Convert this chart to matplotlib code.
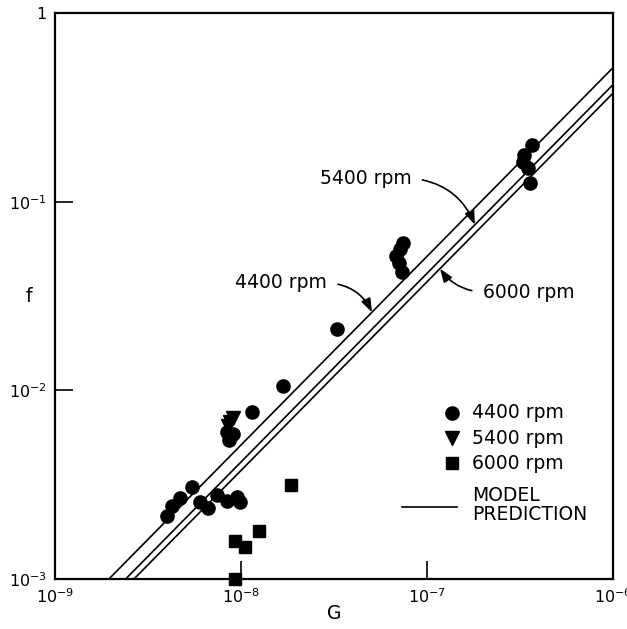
import numpy as np
import matplotlib
matplotlib.use('Agg')
import matplotlib.pyplot as plt
from matplotlib.ticker import FixedLocator, FixedFormatter, NullLocator

plt.rcParams['font.family'] = ['DejaVu Sans']
plt.rcParams['mathtext.fontset'] = 'dejavusans'

# measured points, 4400 rpm
G_4400 = [3.98e-9, 4.24e-9, 4.70e-9, 5.43e-9, 6.03e-9, 6.67e-9, 7.40e-9, 8.38e-9, 9.48e-9, 9.89e-9,
          8.41e-9, 8.61e-9, 9.06e-9, 1.14e-8, 1.68e-8, 3.30e-8,
          7.31e-8, 7.43e-8, 7.16e-8, 6.81e-8, 7.06e-8,
          3.66e-7, 3.33e-7, 3.30e-7, 3.51e-7, 3.58e-7]
f_4400 = [2.16e-3, 2.44e-3, 2.69e-3, 3.08e-3, 2.57e-3, 2.37e-3, 2.79e-3, 2.59e-3, 2.72e-3, 2.57e-3,
          6.01e-3, 5.46e-3, 5.88e-3, 7.63e-3, 1.05e-2, 2.11e-2,
          4.26e-2, 6.04e-2, 5.61e-2, 5.15e-2, 4.73e-2,
          0.200, 0.177, 0.162, 0.151, 0.126]

# 5400 rpm
G_5400 = [9.06e-9, 8.73e-9, 8.51e-9]
f_5400 = [7.13e-3, 6.79e-3, 6.47e-3]

# 6000 rpm
G_6000 = [1.85e-8, 1.25e-8, 9.29e-9, 1.05e-8, 9.23e-9]
f_6000 = [3.15e-3, 1.80e-3, 1.59e-3, 1.48e-3, 1.0e-3]

# model prediction  f = K * G
speeds = ['4400 rpm', '5400 rpm', '6000 rpm']
K_model = [5.13e5, 4.17e5, 3.76e5]
G_arrow = [5.06e-8, 1.81e-7, 1.175e-7]   # where the label arrows touch each line

x_ticks = [1e-9, 1e-8, 1e-7, 1e-6]
x_labels = ['$10^{-9}$', '$10^{-8}$', '$10^{-7}$', '$10^{-6}$']
y_ticks = [1e-3, 1e-2, 1e-1, 1]
y_labels = ['$10^{-3}$', '$10^{-2}$', '$10^{-1}$', '1']

fig = plt.figure(figsize=(6.27, 6.29), dpi=100)
ax = fig.add_axes([55/627, 50/629, 558/627, 566/629])
ax.set_xscale('log')
ax.set_yscale('log')
ax.set_xlim(1e-9, 1e-6)
ax.set_ylim(1e-3, 1)

G_line = np.array([1e-9, 1e-6])
for K in K_model:
    ax.plot(G_line, K*G_line, 'k-', lw=1.2)

ax.plot(G_4400, f_4400, 'o', color='k', ms=9.5, clip_on=False)
ax.plot(G_5400, f_5400, 'v', color='k', ms=9.5, clip_on=False)
ax.plot(G_6000, f_6000, 's', color='k', ms=8, clip_on=False)

fs = 13.5
arrow = dict(arrowstyle='-|>,head_length=0.6,head_width=0.22', color='k', lw=1.2)
# label texts: (text pos G, f), relpos, curvature
txt_pos = [(1.64e-8, 3.71e-2), (4.67e-8, 0.133), (3.52e-7, 3.32e-2)]
relpos = [(1.0, 0.5), (1.0, 0.5), (0.0, 0.5)]
rads = [-0.3, -0.3, -0.25]
for name, K, Ga, tp, rp, r in zip(speeds, K_model, G_arrow, txt_pos, relpos, rads):
    ax.annotate(name, xy=(Ga, K*Ga), xytext=tp, ha='center', va='center', fontsize=fs,
                arrowprops=dict(arrow, relpos=rp, shrinkA=6, shrinkB=0,
                                connectionstyle='arc3,rad=%g' % r))

# legend drawn by hand
tr = ax.transAxes
ax.plot([0.7115], [0.2933], 'o', color='k', ms=9.5, transform=tr)
ax.plot([0.7115], [0.2491], 'v', color='k', ms=9.5, transform=tr)
ax.plot([0.7115], [0.2049], 's', color='k', ms=8, transform=tr)
ax.plot([0.622, 0.720], [0.1272, 0.1272], 'k-', lw=1.2, transform=tr)
for yy, name in zip([0.2933, 0.2491, 0.2049], speeds):
    ax.text(0.7473, yy, name, transform=tr, fontsize=fs, va='center', ha='left')
ax.text(0.7473, 0.1307, 'MODEL\nPREDICTION', transform=tr, fontsize=fs, va='center',
        ha='left', linespacing=0.95)

ax.xaxis.set_major_locator(FixedLocator(x_ticks))
ax.xaxis.set_major_formatter(FixedFormatter(x_labels))
ax.yaxis.set_major_locator(FixedLocator(y_ticks))
ax.yaxis.set_major_formatter(FixedFormatter(y_labels))
ax.xaxis.set_minor_locator(NullLocator())
ax.yaxis.set_minor_locator(NullLocator())
ax.tick_params(which='major', direction='in', length=13, width=1.2, top=False, right=False,
               labelsize=11.5, pad=6)
for s in ax.spines.values():
    s.set_linewidth(1.6)

ax.set_xlabel('G', fontsize=fs)
ax.xaxis.set_label_coords(0.5, -0.045)
ax.set_ylabel('f', fontsize=fs, rotation=0, ha='center', va='center')
ax.yaxis.set_label_coords(-0.047, 0.5)

fig.savefig('out.png', dpi=100)
